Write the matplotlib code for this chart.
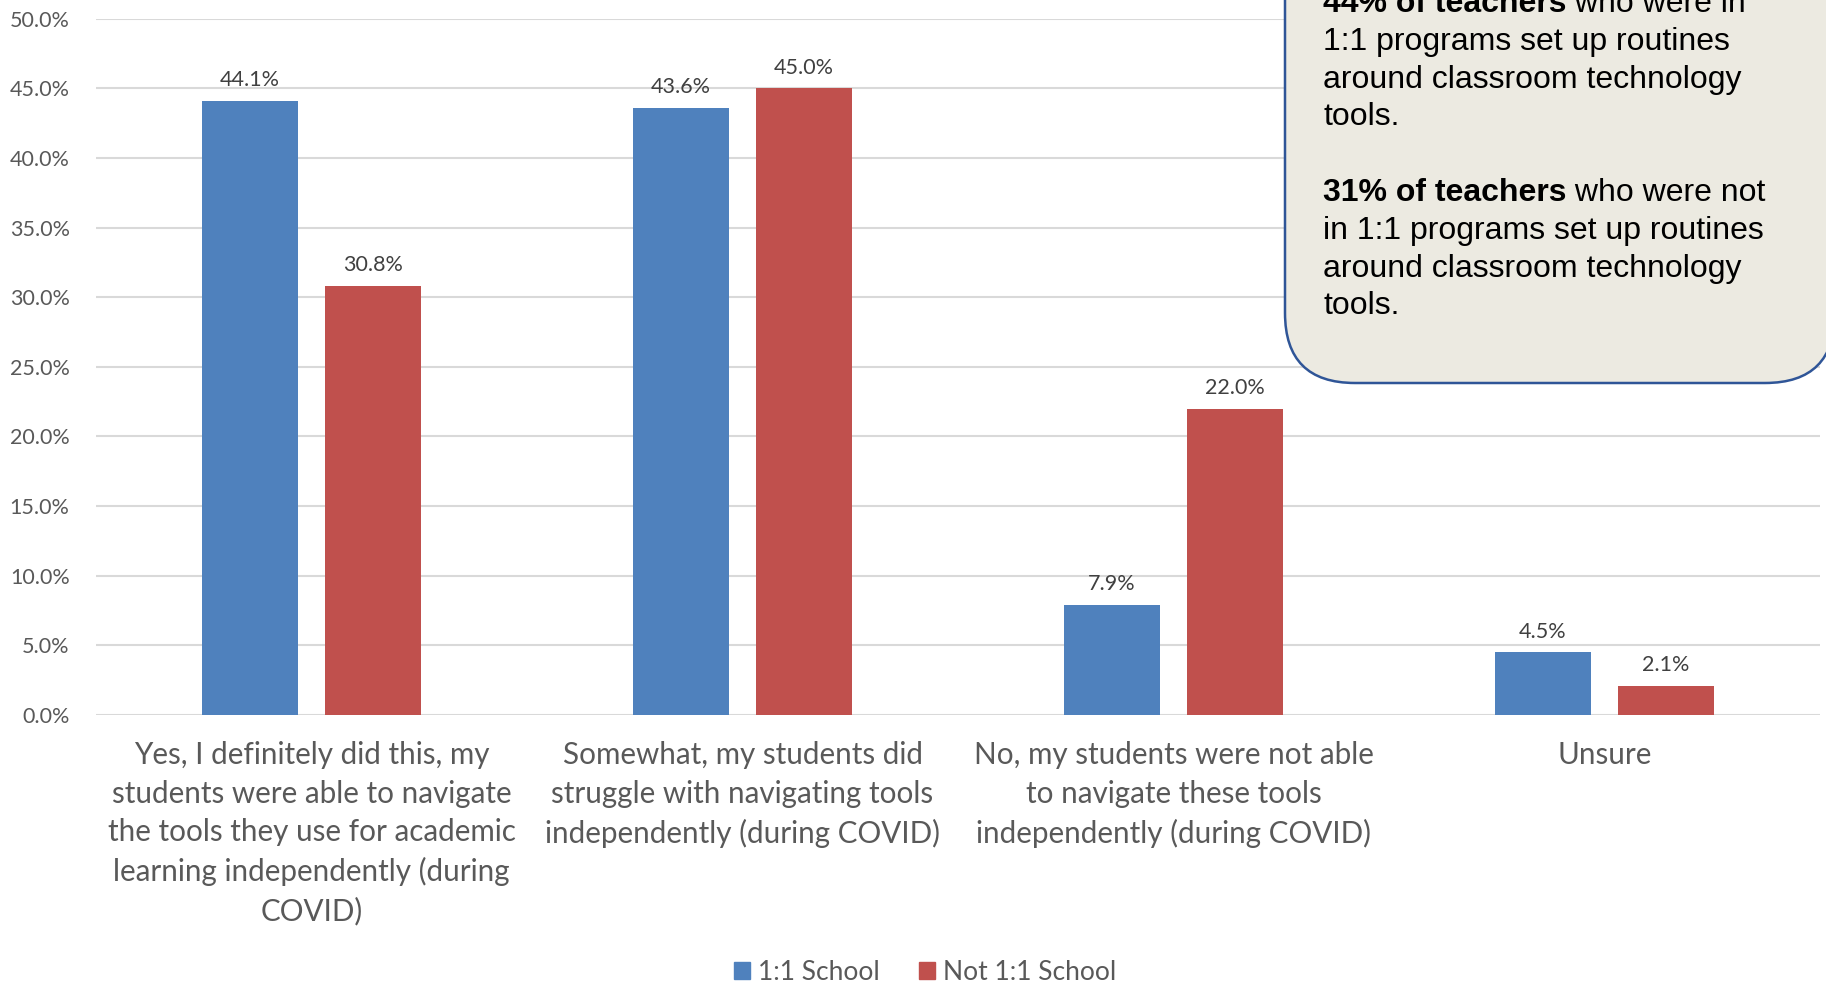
import matplotlib
matplotlib.use("Agg")
import matplotlib.pyplot as plt
import numpy as np
from matplotlib.patches import FancyBboxPatch, Patch
from matplotlib.ticker import FuncFormatter

categories = [
    "Yes, I definitely did this, my\nstudents were able to navigate\nthe tools they use for academic\nlearning independently (during\nCOVID)",
    "Somewhat, my students did\nstruggle with navigating tools\nindependently (during COVID)",
    "No, my students were not able\nto navigate these tools\nindependently (during COVID)",
    "Unsure",
]
one_to_one = [44.1, 43.6, 7.9, 4.5]
not_one_to_one = [30.8, 45.0, 22.0, 2.1]
series_names = ["1:1 School", "Not 1:1 School"]

callout_lines = [
    [("44% of teachers", True), (" who were in", False)],
    [("1:1 programs set up routines", False)],
    [("around classroom technology", False)],
    [("tools.", False)],
    [],
    [("31% of teachers", True), (" who were not", False)],
    [("in 1:1 programs set up routines", False)],
    [("around classroom technology", False)],
    [("tools.", False)],
]

BLUE = "#4F81BD"
RED = "#C0504D"
GRID = "#D9D9D9"
TEXT = "#595959"

plt.rcParams["font.family"] = ["Lato", "DejaVu Sans"]

W, H = 1826, 985
fig = plt.figure(figsize=(W / 100, H / 100), dpi=100)
ax = fig.add_axes([96 / W, 1 - 715 / H, (1820 - 96) / W, (715 - 18.6) / H])

x = np.arange(len(categories))
bw = 0.223
off = 0.143
b1 = ax.bar(x - off, one_to_one, bw, color=BLUE, zorder=3)
b2 = ax.bar(x + off, not_one_to_one, bw, color=RED, zorder=3)

for bars, vals in ((b1, one_to_one), (b2, not_one_to_one)):
    for rect, v in zip(bars, vals):
        ax.annotate(f"{v:.1f}%", (rect.get_x() + rect.get_width() / 2, v),
                    xytext=(0, 10.5), textcoords="offset points",
                    ha="center", va="baseline", fontsize=15.5, color="#404040", zorder=4)

ax.set_xlim(-0.5, 3.5)
ax.set_ylim(0, 50)
ax.set_yticks(np.arange(0, 50.1, 5))
ax.yaxis.set_major_formatter(FuncFormatter(lambda v, p: f"{v:.1f}%"))
ax.set_xticks(x)
ax.set_xticklabels(categories, fontsize=21.3, color=TEXT, linespacing=1.45)
ax.tick_params(axis="x", length=0, pad=19)
ax.tick_params(axis="y", length=0, pad=19, labelsize=15.5, labelcolor=TEXT)
ax.grid(axis="y", color=GRID, linewidth=1.5, zorder=0)
for s in ax.spines.values():
    s.set_visible(False)

handles = [Patch(color=BLUE, label=series_names[0]), Patch(color=RED, label=series_names[1])]
fig.legend(handles=handles, loc="center", bbox_to_anchor=(925 / W, 1 - 972 / H), ncol=2,
           frameon=False, fontsize=19, handlelength=0.6, handleheight=0.6,
           handletextpad=0.3, columnspacing=1.5, labelcolor=TEXT)

# callout box in pixel coordinates
ov = fig.add_axes([0, 0, 1, 1])
ov.set_xlim(0, W)
ov.set_ylim(H, 0)
ov.axis("off")
box = FancyBboxPatch((1285, -80), 550, 463, boxstyle="round,pad=0,rounding_size=70",
                     facecolor="#ECEAE1", edgecolor="#2F5597", linewidth=1.8)
ov.add_patch(box)

fig.canvas.draw()
renderer = fig.canvas.get_renderer()
y0 = 12
for i, line in enumerate(callout_lines):
    xx = 1323
    for txt, bold in line:
        t = ov.text(xx, y0 + i * 37.8, txt, fontsize=23, color="black",
                    fontweight="bold" if bold else "normal",
                    family=["Liberation Sans", "DejaVu Sans"], va="baseline", ha="left")
        xx += t.get_window_extent(renderer).width

fig.savefig("out.png", dpi=100)
